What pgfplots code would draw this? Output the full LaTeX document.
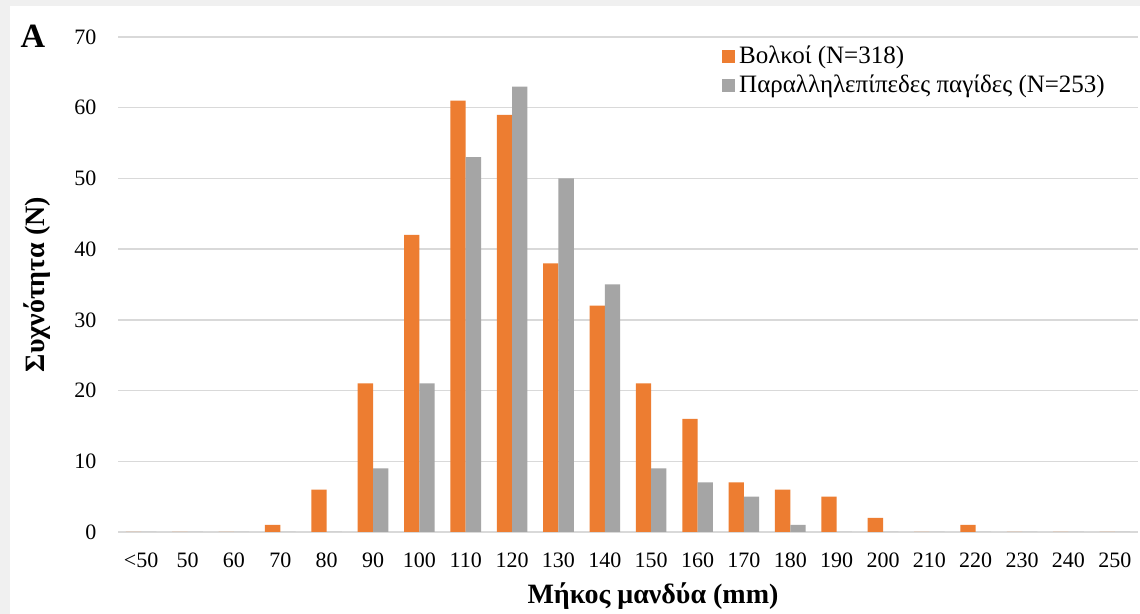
\documentclass[border=0pt]{standalone}
\usepackage{fontspec}
\setmainfont{Liberation Serif}
\usepackage{pgfplots}
\pgfplotsset{compat=1.18}
\definecolor{barorange}{HTML}{ED7D31}
\definecolor{bargray}{HTML}{A5A5A5}
\definecolor{gridgray}{HTML}{D9D9D9}
\definecolor{framegray}{HTML}{F0F0F0}

\begin{document}
\fontsize{11pt}{13.5pt}\selectfont
\begin{tikzpicture}
\useasboundingbox (0,0) rectangle (570pt,307pt);
\fill[framegray] (0,0) rectangle (570pt,307pt);
\fill[white] (5pt,0) rectangle (570pt,304pt);
\node[font=\fontsize{17pt}{20pt}\selectfont\bfseries] at (16.5pt,289pt) {A};
\begin{axis}[
  at={(59pt,41pt)}, anchor=south west,
  scale only axis, width=510pt, height=247.5pt,
  ymin=0, ymax=70, ytick={0,10,...,70},
  xmin=-0.5, xmax=21.5,
  xtick={0,...,21},
  xticklabels={<50,50,60,70,80,90,100,110,120,130,140,150,160,170,180,190,200,210,220,230,240,250},
  axis line style={draw=none},
  major tick length=0pt,
  ymajorgrids, grid style={gridgray, line width=0.75pt},
  /pgf/number format/assume math mode=true,
  tick label style={font=\fontsize{11pt}{13pt}\selectfont},
  yticklabel style={xshift=-7pt},
  xticklabel style={yshift=-6.5pt},
  xlabel={Μήκος μανδύα (mm)},
  ylabel={Συχνότητα (N)},
  label style={font=\fontsize{14pt}{16pt}\selectfont\bfseries},
  xlabel style={at={(axis description cs:0.5245,-0.13)}, anchor=center},
  ylabel style={at={(axis description cs:-0.0794,0.5)}, anchor=center},
  legend cell align=left,
  legend style={draw=none, fill=none, at={(axis description cs:0.592,0.99)}, anchor=north west,
    font=\fontsize{12.5pt}{14pt}\selectfont, row sep=0pt, inner sep=0pt,
    /tikz/every even column/.append style={column sep=0pt}},
  legend image code/.code={\fill[#1] (0pt,-3.25pt) rectangle (6.5pt,3.25pt);},
]
% Βολκοί (N=318)
\addplot[ybar, bar width=0.33, bar shift=-0.165, fill=barorange, draw=none]
  coordinates {(0,0) (1,0) (2,0) (3,1) (4,6) (5,21) (6,42) (7,61) (8,59) (9,38) (10,32)
               (11,21) (12,16) (13,7) (14,6) (15,5) (16,2) (17,0) (18,1) (19,0) (20,0) (21,0)};
\addlegendentry{Βολκοί (N=318)}
% Παραλληλεπίπεδες παγίδες (N=253)
\addplot[ybar, bar width=0.33, bar shift=0.165, fill=bargray, draw=none]
  coordinates {(0,0) (1,0) (2,0) (3,0) (4,0) (5,9) (6,21) (7,53) (8,63) (9,50) (10,35)
               (11,9) (12,7) (13,5) (14,1) (15,0) (16,0) (17,0) (18,0) (19,0) (20,0) (21,0)};
\addlegendentry{Παραλληλεπίπεδες παγίδες (N=253)}
\end{axis}
\end{tikzpicture}
\end{document}
